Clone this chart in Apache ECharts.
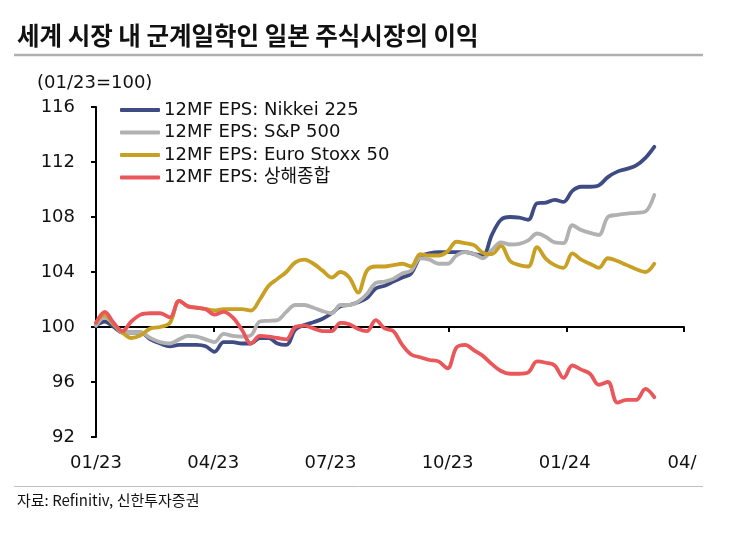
<!DOCTYPE html>
<html><head><meta charset="utf-8">
<script src="https://cdn.jsdelivr.net/npm/echarts@6/dist/echarts.min.js"></script>
<style>html,body{margin:0;padding:0;background:#fff}#c{width:729px;height:538px}</style>
</head><body><div id="c"></div>
<script>
const titleText = '세계 시장 내 군계일학인 일본 주식시장의 이익';
const unitText = '(01/23=100)';
const sourceText = '자료: Refinitiv, 신한투자증권';
const seriesNames = ['12MF EPS: Nikkei 225', '12MF EPS: S&P 500', '12MF EPS: Euro Stoxx 50', '12MF EPS: 상해종합'];
const xTickLabels = ['01/23', '04/23', '07/23', '10/23', '01/24', '04/'];
const yTicks = [92, 96, 100, 104, 108, 112, 116];
const firstWeek = '2023-01-01';
const weekCount = 63;

const nikkei = [100.1,100.4,100.0,99.6,99.6,99.6,99.1,98.8,98.6,98.7,98.7,98.7,98.6,98.2,98.9,98.9,98.8,98.8,99.2,99.2,
  98.8,98.7,99.8,100.15,100.35,100.6,101.0,101.5,101.6,101.8,102.1,102.8,103.0,103.3,103.6,103.9,105.1,105.35,105.45,105.45,
  105.45,105.45,105.3,105.2,106.7,107.8,108.0,107.95,107.8,109.0,109.05,109.25,109.1,109.9,110.2,110.2,110.3,110.9,111.3,111.5,
  111.75,112.3,113.1];
const sp500 = [100.1,100.7,100.2,99.6,99.6,99.6,99.2,98.9,98.8,99.1,99.35,99.3,99.1,98.9,99.5,99.35,99.3,99.4,100.4,100.45,
  100.5,101.1,101.6,101.6,101.4,101.15,101.0,101.6,101.6,101.85,102.4,103.2,103.3,103.5,103.9,104.1,105.0,104.9,104.6,104.6,
  105.2,105.45,105.3,105.0,105.6,106.15,106.0,106.05,106.3,106.8,106.55,106.15,106.1,107.4,107.05,106.85,106.7,108.0,108.15,108.25,
  108.3,108.4,109.6];
const euroStoxx = [100.3,100.9,100.2,99.6,99.2,99.4,99.9,100.0,100.3,101.9,101.5,101.4,101.3,101.2,101.3,101.3,101.3,101.2,102.0,103.0,
  103.5,104.0,104.7,104.9,104.6,104.1,103.6,104.0,103.6,102.5,104.1,104.4,104.4,104.5,104.6,104.4,105.3,105.2,105.2,105.5,
  106.2,106.1,105.95,105.4,105.3,105.9,104.8,104.5,104.4,105.8,104.95,104.5,104.3,105.35,104.9,104.6,104.3,105.0,104.8,104.5,
  104.2,104.0,104.6];
const shanghai = [100.3,101.1,100.3,99.7,100.4,100.9,101.0,101.0,100.7,101.9,101.5,101.4,101.3,100.9,101.1,100.7,99.8,98.8,99.35,99.3,
  99.2,99.1,100.0,100.1,99.9,99.7,99.7,100.3,100.2,99.85,99.7,100.5,99.9,99.7,98.7,98.0,97.8,97.6,97.5,97.0,
  98.5,98.7,98.3,97.9,97.3,96.8,96.6,96.6,96.7,97.5,97.4,97.2,96.3,97.2,96.9,96.6,95.8,96.0,94.5,94.7,
  94.7,95.5,94.9];
const colors = ['#3f4c84', '#b1b1b1', '#c8a024', '#ea575b'];

// weekly dates -> fractional month position (01/23 = 0)
function monthPos(i) {
  const d = new Date(firstWeek + 'T00:00:00');
  d.setDate(d.getDate() + 7 * i);
  const y = d.getFullYear(), m = d.getMonth(), day = d.getDate();
  const dim = new Date(y, m + 1, 0).getDate();
  return (y - 2023) * 12 + m + (day - 1) / dim;
}
const xs = [];
for (let i = 0; i < weekCount; i++) xs.push(monthPos(i));
const pair = arr => arr.map((v, i) => [xs[i], v]);

const FONT = 'DejaVu Sans, Noto Sans CJK KR, sans-serif';
const chart = echarts.init(document.getElementById('c'), null, {renderer: 'canvas'});
const allData = [nikkei, sp500, euroStoxx, shanghai];

chart.setOption({
  animation: false,
  backgroundColor: '#fff',
  grid: [
    {left: 96, right: 47, top: 107, height: 330},
    {left: 96, right: 45, top: 326, height: 1}
  ],
  xAxis: [
    {type: 'value', gridIndex: 0, min: 0, max: 15, interval: 3,
      axisLine: {show: false}, axisTick: {show: false}, splitLine: {show: false},
      axisLabel: {margin: 17, color: '#111', fontSize: 18, fontFamily: FONT,
        formatter: v => xTickLabels[Math.round(v / 3)] || ''}},
    {type: 'value', gridIndex: 1, min: 0, max: 15, interval: 3, position: 'bottom',
      axisLine: {show: true, lineStyle: {color: '#000', width: 2}},
      axisTick: {show: true, length: 5, lineStyle: {color: '#000', width: 2}},
      axisLabel: {show: false}, splitLine: {show: false}}
  ],
  yAxis: [
    {type: 'value', gridIndex: 0, min: yTicks[0], max: yTicks[yTicks.length - 1], interval: 4,
      axisLine: {show: true, lineStyle: {color: '#000', width: 2}},
      axisTick: {show: true, length: 5, lineStyle: {color: '#000', width: 2}},
      splitLine: {show: false},
      axisLabel: {margin: 21, color: '#111', fontSize: 18, fontFamily: FONT}},
    {type: 'value', gridIndex: 1, show: false, min: 0, max: 1}
  ],
  legend: {
    orient: 'vertical', left: 120, top: 100, padding: 0, itemGap: 2.5,
    itemWidth: 40, itemHeight: 4, icon: 'roundRect',
    textStyle: {fontSize: 18, fontFamily: FONT, color: '#111', lineHeight: 20, padding: [0, 0, 0, -1]},
    data: seriesNames
  },
  series: allData.map((arr, k) => ({
    name: seriesNames[k], type: 'line', xAxisIndex: 0, yAxisIndex: 0,
    data: pair(arr), showSymbol: false, symbol: 'none', smooth: 0.35,
    lineStyle: {color: colors[k], width: 3.8, cap: 'round', join: 'round'},
    itemStyle: {color: colors[k]}, z: 2 + k
  })),
  graphic: [
    {type: 'text', left: 17, top: 23, style: {text: titleText, fontSize: 24.5, fontWeight: 'bold',
      fontFamily: 'Noto Sans CJK KR, sans-serif', fill: '#111'}},
    {type: 'line', shape: {x1: 14, y1: 55, x2: 703, y2: 55}, style: {stroke: '#b0b0b0', lineWidth: 2.5}},
    {type: 'text', left: 37, top: 74, style: {text: unitText, fontSize: 18, fontFamily: FONT, fill: '#111'}},
    {type: 'line', shape: {x1: 14, y1: 486.5, x2: 703, y2: 486.5}, style: {stroke: '#c0c0c0', lineWidth: 1}},
    {type: 'text', left: 17, top: 493, style: {text: sourceText, fontSize: 15,
      fontFamily: 'Noto Sans CJK KR, sans-serif', fill: '#111'}}
  ]
});
</script>
</body></html>
